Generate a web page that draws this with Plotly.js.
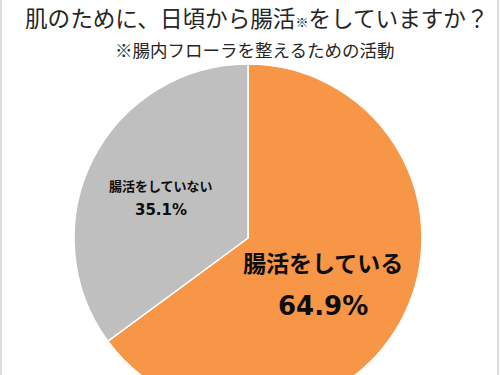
<!DOCTYPE html>
<html>
<head>
<meta charset="utf-8">
<script src="https://cdn.plot.ly/plotly-3.0.1.min.js"></script>
<style>
html,body{margin:0;padding:0;background:#fff;overflow:hidden;}
#wrap{position:relative;width:500px;height:375px;overflow:hidden;}
#chart{position:absolute;left:0;top:0;width:500px;height:420px;}
#frameL{position:absolute;left:0;top:0;width:2px;height:375px;background:#dcdcdc;pointer-events:none;}
#frameR{position:absolute;left:497px;top:0;width:2px;height:375px;background:#dcdcdc;pointer-events:none;}
</style>
</head>
<body>
<div id="wrap"><div id="chart"></div><div id="frameL"></div><div id="frameR"></div></div>
<script>
// Data
const titleMain = '肌のために、日頃から腸活';
const titleMark = '※';
const titleTail = 'をしていますか？';
const subtitle = '※腸内フローラを整えるための活動';
const labels = ['腸活をしている', '腸活をしていない'];
const values = [64.9, 35.1];
const colors = ['#F79646', '#BFBFBF'];

const H = 420;
const py = p => 1 - p / H;
const jp = '"Noto Sans CJK JP", "Noto Sans", sans-serif';

const trace = {
  type: 'pie',
  labels: labels,
  values: values,
  sort: false,
  direction: 'clockwise',
  rotation: 0,
  marker: {colors: colors, line: {color: '#ffffff', width: 1.5}},
  textinfo: 'none',
  hoverinfo: 'none',
  domain: {x: [74/500, 422/500], y: [py(412), py(64)]}
};

const pct = v => v.toFixed(1) + '%';

const annotations = [
  {text: titleMain + '<span style="font-size:13px">' + titleMark + '</span>' + titleTail,
   x: 257/500, y: py(18), xref: 'paper', yref: 'paper', showarrow: false,
   xanchor: 'center', yanchor: 'middle', font: {family: jp, size: 22.6, color: '#262626'}},
  {text: subtitle, x: 254/500, y: py(49), xref: 'paper', yref: 'paper', showarrow: false,
   xanchor: 'center', yanchor: 'middle', font: {family: jp, size: 17.5, color: '#262626'}},
  {text: '<b>' + labels[0] + '</b>', x: 323/500, y: py(262), xref: 'paper', yref: 'paper', showarrow: false,
   xanchor: 'center', yanchor: 'middle', font: {family: jp, size: 23, color: '#0d0d0d'}},
  {text: '<b>' + pct(values[0]) + '</b>', x: 323/500, y: py(306), xref: 'paper', yref: 'paper', showarrow: false,
   xanchor: 'center', yanchor: 'middle', font: {family: '"DejaVu Sans", sans-serif', size: 26, color: '#0d0d0d'}},
  {text: '<b>' + labels[1] + '</b>', x: 161/500, y: py(185), xref: 'paper', yref: 'paper', showarrow: false,
   xanchor: 'center', yanchor: 'middle', font: {family: jp, size: 13, color: '#0d0d0d'}},
  {text: '<b>' + pct(values[1]) + '</b>', x: 161/500, y: py(210), xref: 'paper', yref: 'paper', showarrow: false,
   xanchor: 'center', yanchor: 'middle', font: {family: '"DejaVu Sans", sans-serif', size: 15, color: '#0d0d0d'}}
];

const layout = {
  width: 500, height: H,
  margin: {l: 0, r: 0, t: 0, b: 0},
  paper_bgcolor: '#ffffff',
  showlegend: false,
  annotations: annotations
};

Plotly.newPlot('chart', [trace], layout, {staticPlot: true, displayModeBar: false});
</script>
</body>
</html>
